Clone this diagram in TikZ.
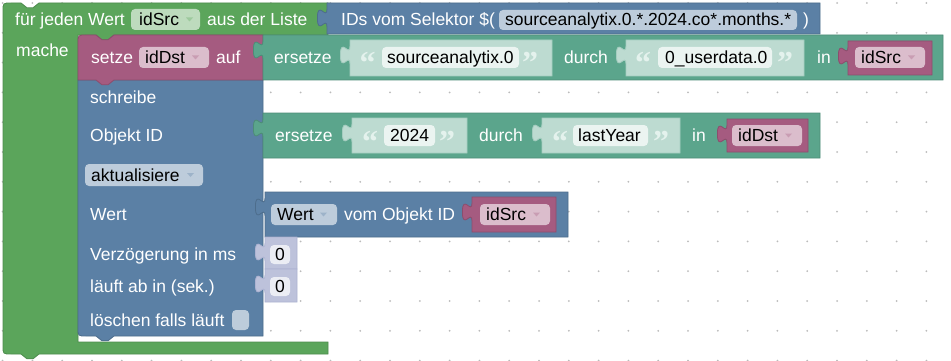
\documentclass[tikz,border=0pt]{standalone}
\usepackage{fontspec}
\setmainfont{Liberation Sans}
\newfontfamily\qfont{Liberation Serif}
\definecolor{cgreen}{HTML}{5BA55B}
\definecolor{cpurple}{HTML}{A55B80}
\definecolor{cteal}{HTML}{5BA58C}
\definecolor{cblue}{HTML}{5B80A5}
\definecolor{cnum}{HTML}{5B67A5}
\definecolor{cdot}{HTML}{BBBBBB}
\definecolor{cquote}{RGB}{228,242,237}
\tikzset{
 lbl/.style={anchor=base west, inner sep=0pt, text=white, font=\fontsize{17.5}{20}\selectfont},
 ftxt/.style={anchor=base west, inner sep=0pt, text=black, font=\fontsize{17.5}{20}\selectfont},
 qt/.style={anchor=base, inner sep=0pt, text=cquote, font=\fontsize{32}{34}\selectfont\qfont\bfseries},
 ntxt/.style={anchor=base, inner sep=0pt, text=black, font=\fontsize{17.5}{20}\selectfont},
}
\newcommand\vblk[6]{%
 \path[fill=#5, draw=#6, line width=0.8pt] (#1,#2) -- (#3,#2) -- (#3,#4) -- (#1,#4) -- ({#1},{#2+24}) .. controls ({#1},{#2+12}) and ({#1-9.6},{#2+33.6}) .. ({#1-9.6},{#2+15}) .. controls ({#1-9.6},{#2-3.6}) and ({#1},{#2+18}) .. ({#1},{#2+6}) -- cycle;}
\newcommand\fld[5]{\fill[#5, rounded corners=4pt] (#1,#2) rectangle (#3,#4);}
\newcommand\darr[3]{\fill[#3] (#1,#2) -- ({#1+7},#2) -- ({#1+3.5},{#2+4}) -- cycle;}
\begin{document}
\begin{tikzpicture}[x=1pt,y=-1pt]
\useasboundingbox (0,0) rectangle (951,361);
\fill[white] (0,0) rectangle (951,361);
\foreach \i in {0,...,31} \foreach \j in {0,...,12} \fill[cdot] ({2.6+29.8*\i},{3+29.8*\j}) circle (1pt);
% green loop
\path[fill=cgreen, draw=cgreen!85!black, line width=0.8pt] (3,11) .. controls (3,3) .. (11,3) -- (21,3) -- (27,7.8) -- (33,7.8) -- (39,3) -- (328,3) -- (328,35) -- (114,35) -- (108,39.8) -- (102,39.8) -- (96,35) -- (78,35) -- (78,342) -- (328,342) -- (328,354) -- (39,354) -- (33,358.8) -- (27,358.8) -- (21,354) -- (11,354) .. controls (3,354) .. (3,346) -- cycle;
% blue schreibe
\path[fill=cblue, draw=cblue!85!black, line width=0.8pt] (78,80) -- (263,80) -- (263,336) -- (114,336) -- (108,340.8) -- (102,340.8) -- (96,336) -- (86,336) .. controls (78,336) .. (78,328) -- cycle;
% purple setze
\path[fill=cpurple, draw=cpurple!85!black, line width=0.8pt] (78,43) .. controls (78,35) .. (86,35) -- (96,35) -- (102,39.8) -- (108,39.8) -- (114,35) -- (263,35) -- (263,80) -- (114,80) -- (108,84.8) -- (102,84.8) -- (96,80) -- (78,80) -- cycle;
% selector
\vblk{327}{3}{820}{34}{cblue}{cblue!85!black}
\fld{499}{10}{797}{30}{cblue!40!white}
% teal row 1
\vblk{263}{35}{943}{80}{cteal}{cteal!85!black}
\vblk{350}{40}{552}{76}{cteal!40!white}{cteal!55!white}
\fld{382}{47}{519}{68}{cteal!12!white}
\vblk{626}{40}{804}{76}{cteal!40!white}{cteal!55!white}
\fld{658}{47}{772}{68}{cteal!12!white}
\vblk{848}{41}{932}{75}{cpurple}{cpurple!85!black}
\fld{855}{47}{925}{68}{cpurple!40!white}
% teal row 2
\vblk{263}{113}{820}{158}{cteal}{cteal!85!black}
\vblk{352}{118}{467}{153}{cteal!40!white}{cteal!55!white}
\fld{384}{125}{435}{146}{cteal!12!white}
\vblk{542}{118}{680}{153}{cteal!40!white}{cteal!55!white}
\fld{573}{125}{648}{146}{cteal!12!white}
\vblk{727}{119}{808}{152}{cpurple}{cpurple!85!black}
\fld{732}{125}{802}{146}{cpurple!40!white}
% wert block
\vblk{265}{192}{568}{237}{cblue}{cblue!85!black}
\fld{271}{204}{337}{225}{cblue!40!white}
\vblk{472}{197}{556}{232}{cpurple}{cpurple!85!black}
\fld{480}{204}{550}{225}{cpurple!40!white}
% numbers
\vblk{265}{237}{297}{269}{cnum!40!white}{cnum!50!white}
\fld{270}{245}{290}{264}{cnum!12!white}
\vblk{265}{269}{297}{302}{cnum!40!white}{cnum!50!white}
\fld{270}{277}{290}{296}{cnum!12!white}
% other fields
\fld{131}{9}{200}{30}{cgreen!40!white}
\fld{139}{47}{209}{68}{cpurple!40!white}
\fld{85}{164}{203}{186}{cblue!40!white}
\fld{232}{310}{249}{330}{cblue!40!white}
% arrows
\darr{186}{17.5}{cgreen!60!white}
\darr{192}{55.5}{cpurple!60!white}
\darr{908}{55.5}{cpurple!60!white}
\darr{785}{133.5}{cpurple!60!white}
\darr{187}{173}{cblue!60!white}
\darr{320}{212.5}{cblue!60!white}
\darr{533}{212.5}{cpurple!60!white}
% texts
\node[lbl] (t1) at (15,25.5) {für jeden Wert};
\node[ftxt] (f1) at (139,25.5) {idSrc};
\node[lbl] (t2) at (207,25.5) {aus der Liste};
\node[lbl] (t3) at (341,25.5) {IDs vom Selektor \$(};
\node[ftxt] (f2) at (505,26) {sourceanalytix.0.*.2024.co*.months.*};
\node[lbl] (t4) at (803,25.5) {)};
\node[lbl] (t5) at (16,57) {mache};
\node[lbl] (t6) at (91,63.5) {setze};
\node[ftxt] (f3) at (145,63.5) {idDst};
\node[lbl] (t7) at (216,63.5) {auf};
\node[lbl] (t8) at (274,63.5) {ersetze};
\node[qt] (q1) at (367.5,74) {“};
\node[ftxt] (f4) at (387,63.5) {sourceanalytix.0};
\node[qt] (q2) at (530,74) {”};
\node[lbl] (t9) at (564,63.5) {durch};
\node[qt] (q3) at (643,74) {“};
\node[ftxt] (f5) at (665,63.5) {0\_userdata.0};
\node[qt] (q4) at (785,74) {”};
\node[lbl] (t10) at (817,63.5) {in};
\node[ftxt] (f6) at (861,63.5) {idSrc};
\node[lbl] (t11) at (90,103) {schreibe};
\node[lbl] (t12) at (90,141.5) {Objekt ID};
\node[lbl] (t13) at (275,141.5) {ersetze};
\node[qt] (q5) at (370,152) {“};
\node[ftxt] (f7) at (390,141.5) {2024};
\node[qt] (q6) at (447,152) {”};
\node[lbl] (t14) at (479,141.5) {durch};
\node[qt] (q7) at (560,152) {“};
\node[ftxt] (f8) at (578,141.5) {lastYear};
\node[qt] (q8) at (661,152) {”};
\node[lbl] (t15) at (692,141.5) {in};
\node[ftxt] (f9) at (738,141.5) {idDst};
\node[ftxt] (f10) at (91,181) {aktualisiere};
\node[lbl] (t16) at (90,220) {Wert};
\node[ftxt] (f11) at (277,220.5) {Wert};
\node[lbl] (t17) at (344,220.5) {vom Objekt ID};
\node[ftxt] (f12) at (486,220.5) {idSrc};
\node[lbl] (t18) at (90,260.5) {Verzögerung in ms};
\node[ntxt] (n1) at (280,260.5) {0};
\node[lbl] (t19) at (90,292.5) {läuft ab in (sek.)};
\node[ntxt] (n2) at (280,292.5) {0};
\node[lbl] (t20) at (90,326.5) {löschen falls läuft};
\end{tikzpicture}
\end{document}
